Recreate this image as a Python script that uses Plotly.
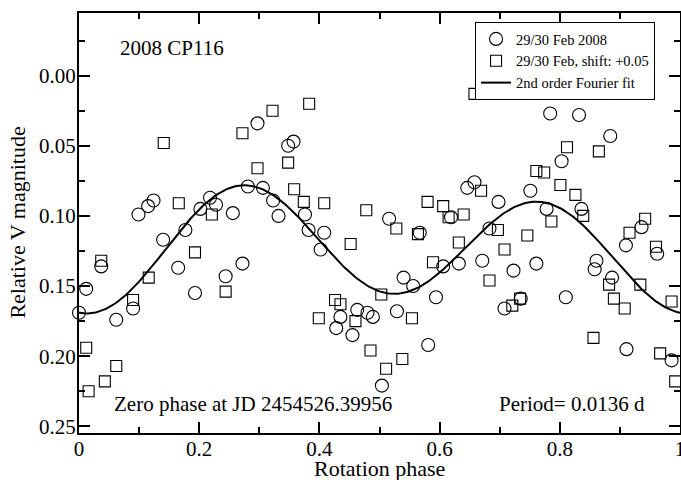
import numpy as np
import plotly.graph_objects as go

# ---- data ----
circle_phase = [0.000, 0.012, 0.037, 0.062, 0.090, 0.099, 0.115, 0.124, 0.140, 0.165,
                0.177, 0.193, 0.202, 0.218, 0.228, 0.244, 0.256, 0.272, 0.281, 0.297,
                0.306, 0.323, 0.332, 0.348, 0.357, 0.376, 0.382, 0.402, 0.408, 0.428,
                0.435, 0.455, 0.463, 0.480, 0.489, 0.504, 0.516, 0.529, 0.540, 0.556,
                0.567, 0.581, 0.594, 0.606, 0.619, 0.632, 0.646, 0.658, 0.671, 0.683,
                0.698, 0.708, 0.723, 0.735, 0.751, 0.761, 0.778, 0.784, 0.803, 0.810,
                0.832, 0.836, 0.858, 0.861, 0.884, 0.887, 0.910, 0.911, 0.936, 0.962,
                0.986]
circle_mag = [0.169, 0.152, 0.136, 0.174, 0.166, 0.099, 0.093, 0.089, 0.117, 0.137,
              0.110, 0.155, 0.095, 0.087, 0.092, 0.143, 0.098, 0.134, 0.079, 0.034,
              0.080, 0.089, 0.100, 0.050, 0.047, 0.099, 0.110, 0.124, 0.112, 0.180,
              0.172, 0.185, 0.167, 0.169, 0.172, 0.221, 0.102, 0.168, 0.144, 0.150,
              0.112, 0.192, 0.158, 0.136, 0.101, 0.134, 0.080, 0.076, 0.132, 0.109,
              0.090, 0.166, 0.139, 0.159, 0.082, 0.134, 0.095, 0.027, 0.061, 0.158,
              0.028, 0.095, 0.138, 0.132, 0.043, 0.144, 0.121, 0.195, 0.108, 0.127,
              0.203]

square_phase = [0.012, 0.016, 0.037, 0.043, 0.062, 0.090, 0.116, 0.141, 0.166, 0.193,
                0.221, 0.244, 0.272, 0.297, 0.322, 0.348, 0.358, 0.374, 0.383, 0.408,
                0.399, 0.426, 0.435, 0.452, 0.460, 0.478, 0.485, 0.503, 0.511, 0.528,
                0.538, 0.554, 0.564, 0.580, 0.589, 0.606, 0.615, 0.632, 0.640, 0.658,
                0.669, 0.683, 0.697, 0.708, 0.721, 0.734, 0.746, 0.761, 0.774, 0.786,
                0.801, 0.812, 0.826, 0.839, 0.856, 0.865, 0.882, 0.890, 0.908, 0.916,
                0.934, 0.942, 0.960, 0.967, 0.986, 0.992]
square_mag = [0.194, 0.225, 0.132, 0.218, 0.207, 0.160, 0.144, 0.048, 0.091, 0.126,
              0.099, 0.154, 0.041, 0.066, 0.025, 0.062, 0.081, 0.090, 0.020, 0.091,
              0.173, 0.160, 0.163, 0.120, 0.175, 0.096, 0.196, 0.156, 0.209, 0.109,
              0.202, 0.173, 0.113, 0.090, 0.133, 0.093, 0.101, 0.119, 0.099, 0.013,
              0.082, 0.146, 0.110, 0.124, 0.164, 0.159, 0.114, 0.068, 0.069, 0.104,
              0.078, 0.051, 0.085, 0.100, 0.187, 0.054, 0.149, 0.159, 0.166, 0.112,
              0.149, 0.102, 0.122, 0.198, 0.161, 0.218]

# 2nd order Fourier fit coefficients: c0, a1, b1, a2, b2
fit_coeffs = [0.1233, 0.0076, -0.0050, 0.0381, 0.0090]

x_tickvals = [0, 0.2, 0.4, 0.6, 0.8, 1.0]
x_ticktext = ["0", "0.2", "0.4", "0.6", "0.8", "1"]
y_tickvals = [0.00, 0.05, 0.10, 0.15, 0.20, 0.25]
y_ticktext = ["0.00", "0.05", "0.10", "0.15", "0.20", "0.25"]

# ---- fit curve ----
c0, a1, b1, a2, b2 = fit_coeffs
xf = np.linspace(0, 1, 401)
th = 2 * np.pi * xf
yf = c0 + a1 * np.cos(th) + b1 * np.sin(th) + a2 * np.cos(2 * th) + b2 * np.sin(2 * th)

FONT = "Liberation Serif, Times New Roman, serif"

fig = go.Figure()
fig.add_trace(go.Scatter(
    x=circle_phase, y=circle_mag, mode="markers", name="29/30 Feb 2008",
    marker=dict(symbol="circle-open", size=13, color="black", line=dict(width=1.1, color="black")),
    cliponaxis=False))
fig.add_trace(go.Scatter(
    x=square_phase, y=square_mag, mode="markers", name="29/30 Feb, shift: +0.05",
    marker=dict(symbol="square-open", size=11, color="black", line=dict(width=1.1, color="black")),
    cliponaxis=False))
fig.add_trace(go.Scatter(
    x=xf, y=yf, mode="lines", name="2nd order Fourier fit",
    line=dict(color="black", width=2)))

axis_common = dict(
    showline=True, linecolor="black", linewidth=2, mirror="allticks",
    ticks="inside", ticklen=11, tickwidth=2, tickcolor="black",
    showgrid=False, zeroline=False, automargin=False,
    ticklabeloverflow="allow",
    tickfont=dict(family=FONT, size=21, color="black"),
)

fig.update_xaxes(
    range=[0, 1], tickvals=x_tickvals, ticktext=x_ticktext,
    minor=dict(ticks="inside", ticklen=6, tickwidth=2, tickcolor="black", dtick=0.1, showgrid=False),
    ticklabelstandoff=-4,
    **axis_common)
fig.update_yaxes(
    range=[0.2548, -0.0447], tickvals=y_tickvals, ticktext=y_ticktext,
    minor=dict(ticks="inside", ticklen=6, tickwidth=2, tickcolor="black", dtick=0.025, tick0=0, showgrid=False),
    ticklabelstandoff=-3,
    **axis_common)

# axis titles
fig.add_annotation(text="Rotation phase", xref="paper", yref="paper", x=0.5, y=-0.0857,
                   xanchor="center", yanchor="middle", showarrow=False,
                   font=dict(family=FONT, size=22, color="black"))
fig.add_annotation(text="Relative V magnitude", xref="paper", yref="paper", x=-0.1015, y=0.501,
                   xanchor="center", yanchor="middle", showarrow=False, textangle=-90,
                   font=dict(family=FONT, size=22, color="black"))

fig.add_annotation(text="2008 CP116", xref="paper", yref="paper", x=0.065, y=0.9167,
                   xanchor="left", yanchor="middle", showarrow=False,
                   font=dict(family=FONT, size=21, color="black"))
fig.add_annotation(text="Zero phase at JD 2454526.39956", xref="paper", yref="paper", x=0.055, y=0.069,
                   xanchor="left", yanchor="middle", showarrow=False,
                   font=dict(family=FONT, size=21, color="black"))
fig.add_annotation(text="Period= 0.0136 d", xref="paper", yref="paper", x=0.6947, y=0.069,
                   xanchor="left", yanchor="middle", showarrow=False,
                   font=dict(family=FONT, size=21, color="black"))

fig.update_layout(
    width=681, height=480,
    margin=dict(l=79, r=1, t=13, b=47, autoexpand=False),
    paper_bgcolor="white", plot_bgcolor="white",
    showlegend=True,
    legend=dict(x=0.659, y=0.9786, xanchor="left", yanchor="top",
                bordercolor="black", borderwidth=1, bgcolor="white",
                font=dict(family=FONT, size=14.5, color="black"),
                tracegroupgap=0, itemwidth=30),
)

fig.write_html("out.html",
               config={"displayModeBar": False},
               post_script="document.body.style.margin='0px';document.body.style.overflow='hidden';")
